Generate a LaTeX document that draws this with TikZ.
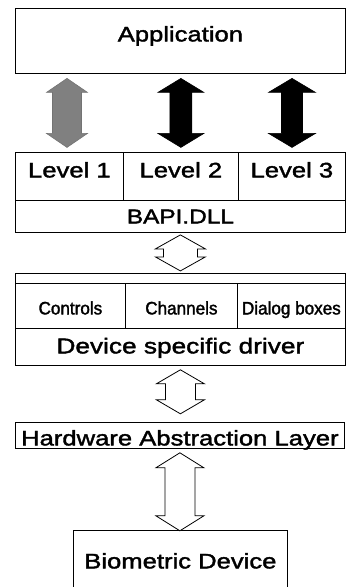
\documentclass[tikz,border=0pt]{standalone}
\usepackage{fontspec}
\setmainfont{Liberation Sans}[FakeStretch=1.22,FakeBold=1.8]
\newfontfamily\smallfont{Liberation Sans}[FakeStretch=0.95,FakeBold=1.8]
\usetikzlibrary{calc}
\tikzset{
  box/.style={draw, line width=0.8pt, inner sep=0pt, anchor=north west,
    font=\fontsize{21}{25}\selectfont},
  smallbox/.style={box, font=\smallfont\fontsize{18}{20}\selectfont},
  tb/.style 2 args={text height=#1pt, text depth=#2pt},
  pics/dblarr/.style n args={4}{code={
    \path[pic actions] (0,#1) -- ({#2},{#1-#4}) -- ({#3},{#1-#4}) -- ({#3},{-#1+#4})
      -- ({#2},{-#1+#4}) -- (0,-#1) -- ({-#2},{-#1+#4}) -- ({-#3},{-#1+#4})
      -- ({-#3},{#1-#4}) -- ({-#2},{#1-#4}) -- cycle;}},
  solidarr/.style={fill=black, draw=black, line width=0.6pt},
  greyarr/.style={fill=black!50, draw=black!55, line width=0.6pt},
  hollowarr/.style={fill=white, draw=black, line width=0.8pt, line join=miter},
}
\begin{document}
\begin{tikzpicture}[x=1pt, y=-1pt]
\useasboundingbox (0,0) rectangle (346,587);

% Application
\node[box, minimum width=330pt, minimum height=65pt, tb={10}{9}] (app) at (15,8) {Application};

% Levels
\node[box, minimum width=108pt, minimum height=48pt, tb={10}{8}] (l1) at (15,152) {Level 1};
\node[box, minimum width=115pt, minimum height=48pt, tb={10}{8}] (l2) at (123,152) {Level 2};
\node[box, minimum width=107pt, minimum height=48pt, tb={10}{8}] (l3) at (238,152) {Level 3};
\node[box, minimum width=330pt, minimum height=32pt, tb={14}{0},
      font=\fontsize{20}{24}\selectfont] (bapi) at (15,200) {BAPI.DLL};

% Device specific driver
\node[box, minimum width=330pt, minimum height=92pt] (drv) at (15,273) {};
\node[smallbox, minimum width=110pt, minimum height=45pt, tb={17}{0}] (ctl) at (15,283) {Controls};
\node[smallbox, minimum width=112pt, minimum height=45pt, tb={17}{0}] (chn) at (125,283) {Channels};
\node[smallbox, minimum width=108pt, minimum height=45pt, tb={17}{0}] (dlg) at (237,283) {Dialog boxes};
\node[box, minimum width=330pt, minimum height=37pt, tb={13}{0},
      font=\fontsize{21.5}{25}\selectfont] (dsd) at (15,328) {Device specific driver};

% HAL
\node[box, minimum width=329pt, minimum height=26pt, tb={20}{0}] (hal) at (15,422) {Hardware Abstraction Layer};

% Biometric device (open at the bottom)
\node[box, draw=none, minimum width=214pt, minimum height=57pt, tb={19}{0}] (bio) at (73,530) {Biometric Device};
\draw[line width=0.8pt] (bio.south west) -- (bio.north west) -- (bio.north east) -- (bio.south east);

% Arrows between application and levels
\coordinate (a1) at ($(app.south -| 67,0)!0.5!(l1.north -| 67,0)$);
\coordinate (a2) at ($(app.south -| l2.center)!0.5!(l2.north)$);
\coordinate (a3) at ($(app.south -| 292,0)!0.5!(l3.north -| 292,0)$);
\pic[greyarr] at (a1) {dblarr={34.5}{20.5}{14.5}{14}};
\pic[solidarr] at (a2) {dblarr={34.5}{23}{11}{14}};
\pic[solidarr] at (a3) {dblarr={34.5}{23.5}{10.5}{14}};

% Hollow arrows
\coordinate (b1) at ($(bapi.south)!0.5!(drv.north)$);
\coordinate (b2) at ($(dsd.south)+(0,26)$);
\coordinate (b3) at ($(hal.south)+(0,43)$);
\pic[hollowarr] at (b1) {dblarr={18}{25}{17}{14}};
\pic[hollowarr] at (b2) {dblarr={22}{24}{15}{14}};
\pic[hollowarr] at (b3) {dblarr={39}{24}{15}{15}};
\end{tikzpicture}
\end{document}
